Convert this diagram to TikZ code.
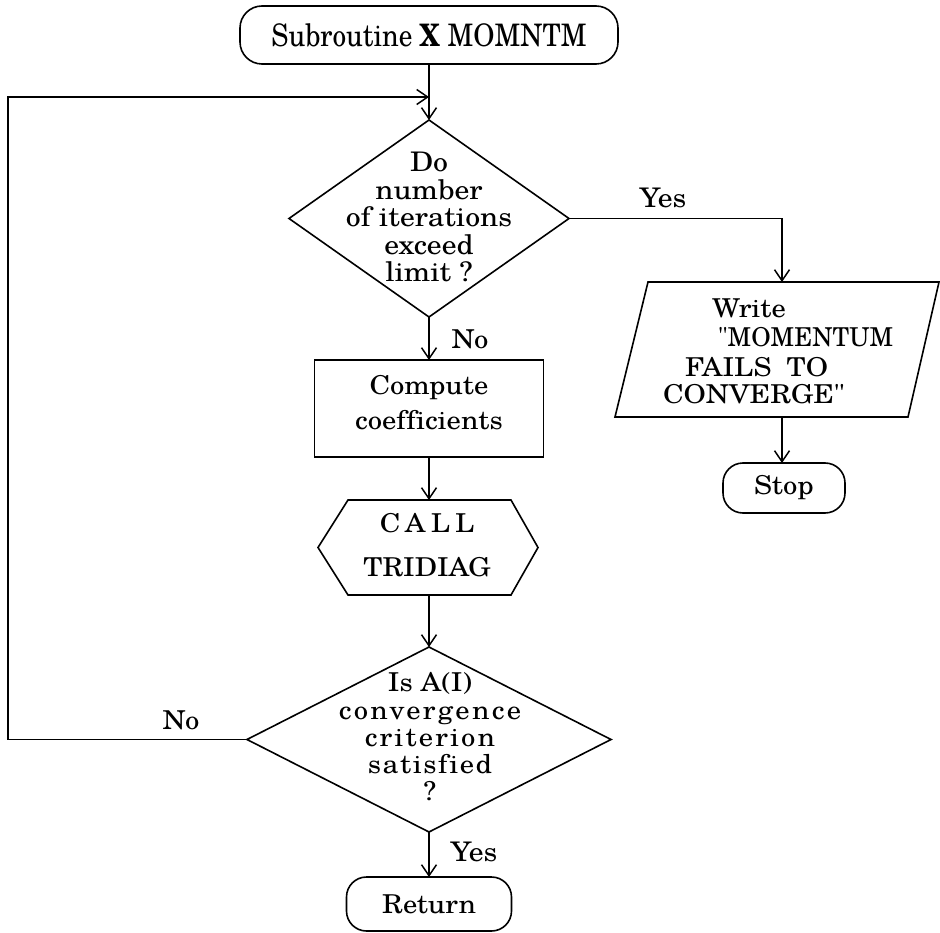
\documentclass[tikz,border=0pt]{standalone}
\usepackage{fontspec}
\setmainfont{TeX Gyre Schola}[Ligatures={TeXOff,CommonOff}, FakeStretch=1.1]
\newfontfamily\titlefont{TeX Gyre Schola}[Ligatures={TeXOff,CommonOff}, FakeStretch=0.88]
\newfontfamily\narrowfont{TeX Gyre Schola}[Ligatures={TeXOff,CommonOff}, FakeStretch=0.96]
\newcommand{\spc}[2]{{\addfontfeatures{LetterSpace=#1}#2}}
\usetikzlibrary{arrows.meta,shapes.geometric}
\begin{document}
\begin{tikzpicture}[x=1pt,y=-1pt,
  base/.style={font=\fontsize{26}{27.5}\selectfont, inner sep=0pt, outer sep=0pt},
  boxline/.style={base, draw, line width=1.6pt},
  term/.style={boxline, rounded corners=22pt, align=center},
  dec/.style={boxline, diamond},
  proc/.style={boxline, rectangle, align=center},
  ghost/.style={base, rectangle},
  txt/.style={base, align=center},
  lbl/.style={base},
  conn/.style={line width=1.6pt, -{Straight Barb[length=11pt,width=15pt,line width=1.5pt]}},
  plain/.style={line width=1.6pt}
]
\useasboundingbox (0,0) rectangle (940,933);

% main column
\node[term, minimum width=378pt, minimum height=58pt, font=\titlefont\fontsize{31}{32}\selectfont] (start) at (429,35) {Subroutine \textbf{X} MOMNTM};
\node[dec, minimum width=280pt, minimum height=197pt] (d1) at (429,218.5) {};
\node[txt, font=\fontsize{27}{27.5}\selectfont] (d1t) at (429,217) {Do\\number\\of iterations\\exceed\\limit ?};
\node[proc, minimum width=229pt, minimum height=97pt] (comp) at (429,408.5) {};
\node[txt, font=\fontsize{26}{35}\selectfont] (compt) at (429,402.5) {Compute\\coefficients};
\node[ghost, minimum width=220pt, minimum height=95pt] (call) at (429,547.5) {};
\node[txt, font=\fontsize{26}{44}\selectfont] (callt) at (427,545.5) {\spc{20}{CALL}\\TRIDIAG};
\draw[plain] (348,500) -- (511,500) -- (538,547.5) -- (511,595) -- (348,595) -- (318,547.5) -- cycle;
\node[dec, minimum width=364pt, minimum height=185pt] (d2) at (429,739.5) {};
\node[txt, font=\fontsize{26}{27.2}\selectfont] (d2t) at (430,737) {Is A(I)\\\spc{9}{convergence}\\\spc{8}{criterion}\\\spc{6}{satisfied}\\?};
\node[term, minimum width=165pt, minimum height=54pt, rounded corners=20pt] (ret) at (429,904) {Return};

% right column
\node[ghost, minimum width=290pt, minimum height=135pt] (write) at (782,349.5) {};
\draw[plain] (648,282) -- (939,282) -- (908,417) -- (615,417) -- cycle;
\node[lbl, anchor=base west] (w1) at (712,318) {Write};
\node[lbl, anchor=base west, font=\narrowfont\fontsize{26}{27.5}\selectfont] (w2) at (718,347) {"MOMENTUM};
\node[lbl, anchor=base west] (w3) at (685,377) {FAILS\hspace*{7pt} TO};
\node[lbl, anchor=base west] (w4) at (663,403) {CONVERGE"};
\node[term, minimum width=122pt, minimum height=50pt, rounded corners=20pt] (stop) at (784,488) {Stop};

% connectors
\coordinate (join) at (429,97);
\coordinate (lt) at (8,97);
\draw[conn] (start.south) -- (d1.north);
\draw[conn] (d2.west) -| (lt) -- (join);
\draw[conn] (d1.east) -| (write.north);
\draw[conn] (write.south) -- (write.south |- stop.north);
\draw[conn] (d1.south) -- (comp.north);
\draw[conn] (comp.south) -- (call.north);
\draw[conn] (call.south) -- (d2.north);
\draw[conn] (d2.south) -- (ret.north);

% labels
\node[lbl, font=\fontsize{27}{27.5}\selectfont] (yes1) at (663,198) {Yes};
\node[lbl] (no1) at (470,339) {No};
\node[lbl] (no2) at (181,720) {No};
\node[lbl, font=\fontsize{27}{27.5}\selectfont] (yes2) at (474,852) {Yes};
\end{tikzpicture}
\end{document}
